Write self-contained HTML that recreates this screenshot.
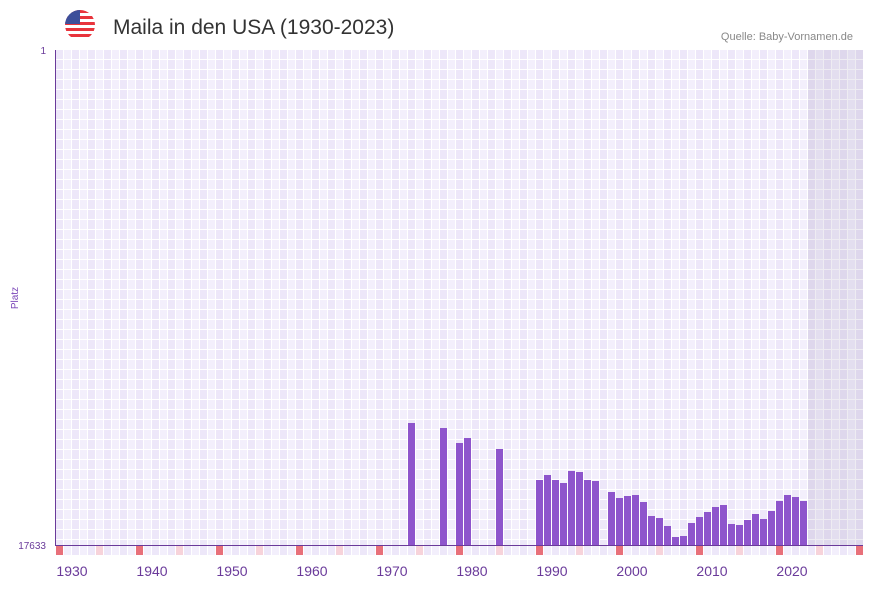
<!DOCTYPE html>
<html><head><meta charset="utf-8"><style>
body{margin:0;background:#fff;width:873px;height:587px;overflow:hidden;font-family:"Liberation Sans",sans-serif}
</style></head><body>
<svg width="873" height="587" xmlns="http://www.w3.org/2000/svg">
<defs>
<pattern id="g" x="56" y="50" width="16" height="10" patternUnits="userSpaceOnUse">
<rect width="8" height="10" fill="#ede7f9"/><rect x="8" width="8" height="10" fill="#f3effc"/>
<rect x="7" width="1" height="10" fill="#fff"/><rect x="15" width="1" height="10" fill="#fff"/>
<rect y="9" width="16" height="1" fill="#fff"/>
</pattern>
<pattern id="b" x="56" y="545" width="16" height="10" patternUnits="userSpaceOnUse">
<rect width="8" height="10" fill="#ede7f9"/><rect x="8" width="8" height="10" fill="#f3effc"/>
<rect x="7" width="1" height="10" fill="#fff"/><rect x="15" width="1" height="10" fill="#fff"/>
</pattern>
<clipPath id="fc"><circle cx="80" cy="25" r="15"/></clipPath>
</defs>
<g clip-path="url(#fc)">
<rect x="65" y="10" width="30" height="30" fill="#fff"/>
<g fill="#e8343c"><rect x="65" y="10" width="30" height="3"/><rect x="65" y="16" width="30" height="3"/><rect x="65" y="22" width="30" height="3"/><rect x="65" y="28" width="30" height="3"/><rect x="65" y="34" width="30" height="3"/></g>
<rect x="65" y="10" width="15" height="14" fill="#3d4f9a"/>
</g>
<text x="113" y="34" font-size="21" fill="#333">Maila in den USA (1930-2023)</text>
<text x="853" y="40" font-size="11" fill="#888" text-anchor="end">Quelle: Baby-Vornamen.de</text>
<rect x="56" y="50" width="807" height="495" fill="url(#g)"/>
<rect x="808" y="50" width="55" height="495" fill="#7a6a9a" opacity="0.13"/>
<rect x="56" y="545" width="807" height="10" fill="url(#b)"/>
<g fill="#e8707a">
<rect x="56" y="545" width="7" height="10"/><rect x="136" y="545" width="7" height="10"/><rect x="216" y="545" width="7" height="10"/><rect x="296" y="545" width="7" height="10"/><rect x="376" y="545" width="7" height="10"/><rect x="456" y="545" width="7" height="10"/><rect x="536" y="545" width="7" height="10"/><rect x="616" y="545" width="7" height="10"/><rect x="696" y="545" width="7" height="10"/><rect x="776" y="545" width="7" height="10"/><rect x="856" y="545" width="7" height="10"/>
</g>
<g fill="#f7d3da">
<rect x="96" y="545" width="7" height="10"/><rect x="176" y="545" width="7" height="10"/><rect x="256" y="545" width="7" height="10"/><rect x="336" y="545" width="7" height="10"/><rect x="416" y="545" width="7" height="10"/><rect x="496" y="545" width="7" height="10"/><rect x="576" y="545" width="7" height="10"/><rect x="656" y="545" width="7" height="10"/><rect x="736" y="545" width="7" height="10"/><rect x="816" y="545" width="7" height="10"/>
</g>
<g fill="#8e55cc">
<rect x="408" y="423" width="7" height="122"/>
<rect x="440" y="428" width="7" height="117"/>
<rect x="456" y="443" width="7" height="102"/>
<rect x="464" y="438" width="7" height="107"/>
<rect x="496" y="449" width="7" height="96"/>
<rect x="536" y="480" width="7" height="65"/>
<rect x="544" y="475" width="7" height="70"/>
<rect x="552" y="480" width="7" height="65"/>
<rect x="560" y="483" width="7" height="62"/>
<rect x="568" y="471" width="7" height="74"/>
<rect x="576" y="472" width="7" height="73"/>
<rect x="584" y="480" width="7" height="65"/>
<rect x="592" y="481" width="7" height="64"/>
<rect x="608" y="492" width="7" height="53"/>
<rect x="616" y="498" width="7" height="47"/>
<rect x="624" y="496" width="7" height="49"/>
<rect x="632" y="495" width="7" height="50"/>
<rect x="640" y="502" width="7" height="43"/>
<rect x="648" y="516" width="7" height="29"/>
<rect x="656" y="518" width="7" height="27"/>
<rect x="664" y="526" width="7" height="19"/>
<rect x="672" y="537" width="7" height="8"/>
<rect x="680" y="536" width="7" height="9"/>
<rect x="688" y="523" width="7" height="22"/>
<rect x="696" y="517" width="7" height="28"/>
<rect x="704" y="512" width="7" height="33"/>
<rect x="712" y="507" width="7" height="38"/>
<rect x="720" y="505" width="7" height="40"/>
<rect x="728" y="524" width="7" height="21"/>
<rect x="736" y="525" width="7" height="20"/>
<rect x="744" y="520" width="7" height="25"/>
<rect x="752" y="514" width="7" height="31"/>
<rect x="760" y="519" width="7" height="26"/>
<rect x="768" y="511" width="7" height="34"/>
<rect x="776" y="501" width="7" height="44"/>
<rect x="784" y="495" width="7" height="50"/>
<rect x="792" y="497" width="7" height="48"/>
<rect x="800" y="501" width="7" height="44"/>
</g>
<line x1="55.5" y1="50" x2="55.5" y2="545" stroke="#6a3a9a" stroke-width="1"/>
<line x1="55" y1="545.5" x2="863" y2="545.5" stroke="#6a3a9a" stroke-width="1"/>
<g fill="#6a3a9a" font-size="10" text-anchor="end">
<text x="46" y="54">1</text><text x="46" y="549">17633</text>
</g>
<text x="18" y="298" font-size="10" fill="#7a45b8" text-anchor="middle" transform="rotate(-90 18 298)">Platz</text>
<g fill="#6a3a9a" font-size="14" text-anchor="middle">
<text x="72" y="576">1930</text><text x="152" y="576">1940</text><text x="232" y="576">1950</text><text x="312" y="576">1960</text><text x="392" y="576">1970</text><text x="472" y="576">1980</text><text x="552" y="576">1990</text><text x="632" y="576">2000</text><text x="712" y="576">2010</text><text x="792" y="576">2020</text>
</g>
</svg>
</body></html>
